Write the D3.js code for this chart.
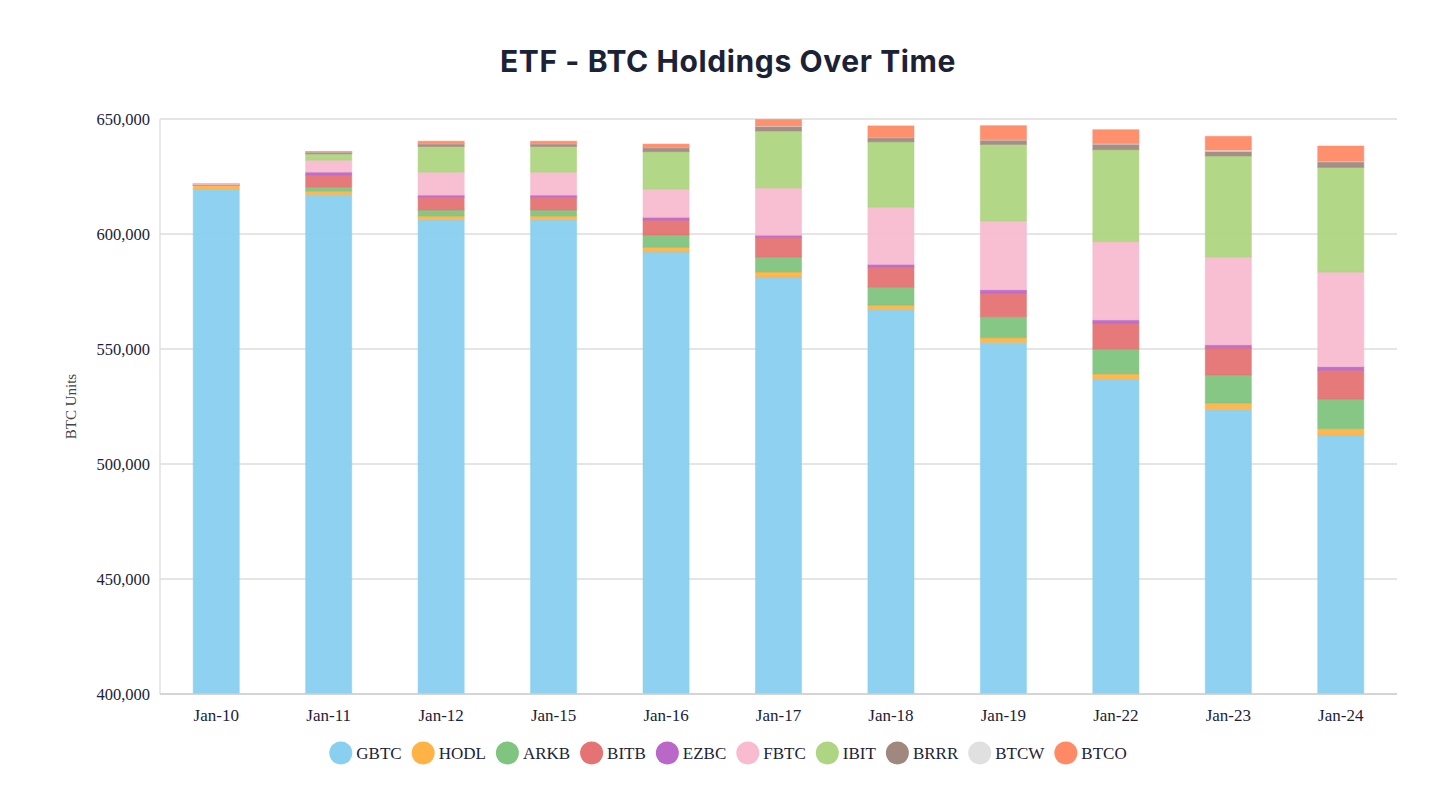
<!DOCTYPE html>
<html>
<head>
<meta charset="utf-8">
<script src="https://cdn.jsdelivr.net/npm/d3@7"></script>
<style>
  body { margin: 0; background: #fff; }
  svg { display: block; }
</style>
</head>
<body>
<div id="chart"></div>
<script>
// ETF BTC holdings, stacked by day
const dates = ["Jan-10", "Jan-11", "Jan-12", "Jan-15", "Jan-16", "Jan-17", "Jan-18", "Jan-19", "Jan-22", "Jan-23", "Jan-24"];
const etfs = ["GBTC", "HODL", "ARKB", "BITB", "EZBC", "FBTC", "IBIT", "BRRR", "BTCW", "BTCO"];

const GBTC = [619500, 617200, 606200, 606200, 592200, 581300, 567100, 552900, 537000, 523600, 512600];
const HODL = [1600, 1450, 1600, 1600, 2000, 2200, 1900, 2000, 2150, 2900, 2750];
const ARKB = [150, 1750, 2600, 2600, 5350, 6500, 7800, 9150, 10850, 12150, 12900];
const BITB = [100, 5200, 5500, 5500, 6500, 8400, 8800, 10300, 11300, 11850, 12500];
const EZBC = [50, 1300, 1000, 1000, 1200, 1050, 1200, 1400, 1300, 1300, 1550];
const FBTC = [500, 5200, 10000, 10000, 12200, 20550, 24900, 29850, 34050, 38150, 41150];
const IBIT = [100, 2750, 11150, 11150, 16350, 24800, 28400, 33350, 40000, 44000, 45500];
const BRRR = [0, 750, 1100, 1100, 1700, 2000, 1750, 1850, 2400, 2000, 2400];
const BTCW = [0, 100, 100, 100, 100, 200, 150, 200, 300, 550, 300];
const BTCO = [0, 200, 1100, 1100, 1500, 2800, 5000, 6100, 6000, 5950, 6600];

const yTicks = [400000, 450000, 500000, 550000, 600000, 650000];

const colors = {
  GBTC: "#89CFF0", HODL: "#FFB347", ARKB: "#7FC47F", BITB: "#E57373", EZBC: "#BA68C8",
  FBTC: "#F8BBD0", IBIT: "#AED581", BRRR: "#A1887F", BTCW: "#E0E0E0", BTCO: "#FF8A65"
};

const series = { GBTC, HODL, ARKB, BITB, EZBC, FBTC, IBIT, BRRR, BTCW, BTCO };
const rows = dates.map((d, i) => {
  const r = { date: d };
  etfs.forEach(k => r[k] = series[k][i]);
  return r;
});

const width = 1456, height = 800;
const margin = { top: 119, right: 59, bottom: 106, left: 160 };
const innerW = width - margin.left - margin.right;
const innerH = height - margin.top - margin.bottom;
const textColor = "#1b2236";
const serif = "'Liberation Serif', 'Times New Roman', serif";

const svg = d3.select("#chart").append("svg")
  .attr("width", width)
  .attr("height", height);

svg.append("text")
  .attr("x", width / 2)
  .attr("y", 72)
  .attr("text-anchor", "middle")
  .style("font-family", "Inter, 'Noto Sans', sans-serif")
  .style("font-weight", 700)
  .style("font-size", "30px")
  .style("letter-spacing", "0.6px")
  .style("fill", textColor)
  .text("ETF - BTC Holdings Over Time");

const g = svg.append("g").attr("transform", `translate(${margin.left},${margin.top})`);

const x = d3.scaleBand()
  .domain(dates)
  .range([0, innerW])
  .paddingInner(0.59)
  .paddingOuter(0.295);

const y = d3.scaleLinear()
  .domain([400000, 650000])
  .range([innerH, 0]);

// grid
g.selectAll("line.grid")
  .data(yTicks)
  .enter()
  .append("line")
  .attr("class", "grid")
  .attr("x1", 0)
  .attr("x2", innerW)
  .attr("y1", d => y(d))
  .attr("y2", d => y(d))
  .attr("stroke", "#dcdcdc")
  .attr("stroke-width", 1.3);

g.append("line")
  .attr("x1", 0).attr("x2", 0)
  .attr("y1", 0).attr("y2", innerH)
  .attr("stroke", "#dcdcdc")
  .attr("stroke-width", 1.3);

g.selectAll("text.ytick")
  .data(yTicks)
  .enter()
  .append("text")
  .attr("class", "ytick")
  .attr("x", -10)
  .attr("y", d => y(d))
  .attr("dy", "0.35em")
  .attr("text-anchor", "end")
  .style("font-family", serif)
  .style("font-size", "16.5px")
  .style("fill", textColor)
  .text(d => d3.format(",")(d));

g.selectAll("text.xtick")
  .data(dates)
  .enter()
  .append("text")
  .attr("class", "xtick")
  .attr("x", d => x(d) + x.bandwidth() / 2)
  .attr("y", innerH + 21)
  .attr("dy", "0.35em")
  .attr("text-anchor", "middle")
  .style("font-family", serif)
  .style("font-size", "17px")
  .style("fill", textColor)
  .text(d => d);

svg.append("text")
  .attr("transform", `translate(76,${margin.top + innerH / 2}) rotate(-90)`)
  .attr("text-anchor", "middle")
  .style("font-family", serif)
  .style("font-size", "15px")
  .style("fill", "#444")
  .text("BTC Units");

// stacked bars, clipped to the plot area
svg.append("defs").append("clipPath")
  .attr("id", "plot-clip")
  .append("rect")
  .attr("width", innerW)
  .attr("height", innerH);

const stack = d3.stack().keys(etfs)(rows);

const layers = g.append("g")
  .attr("clip-path", "url(#plot-clip)")
  .selectAll("g")
  .data(stack)
  .enter()
  .append("g")
  .attr("fill", d => colors[d.key])
  .attr("stroke", d => colors[d.key]);

layers.selectAll("rect")
  .data(d => d.filter(s => s[1] - s[0] > 0))
  .enter()
  .append("rect")
  .attr("x", d => x(d.data.date))
  .attr("y", d => y(d[1]))
  .attr("width", x.bandwidth())
  .attr("height", d => Math.max(0, y(d[0]) - y(d[1])))
  .attr("fill-opacity", 0.95)
  .attr("stroke-opacity", 0.5)
  .attr("stroke-width", 1);

g.append("line")
  .attr("x1", 0).attr("x2", innerW)
  .attr("y1", innerH).attr("y2", innerH)
  .attr("stroke", "#cfcfcf")
  .attr("stroke-width", 1.3);

// legend, centred under the chart
const legend = svg.append("g").attr("transform", "translate(0,753)");
const items = legend.selectAll("g")
  .data(etfs)
  .enter()
  .append("g");

items.append("circle")
  .attr("r", 11.5)
  .attr("cx", 11.5)
  .attr("cy", 0)
  .attr("fill", d => colors[d]);

items.append("text")
  .attr("x", 27)
  .attr("dy", "0.35em")
  .style("font-family", serif)
  .style("font-size", "17px")
  .style("fill", textColor)
  .text(d => d);

let offset = 0;
const gap = 10;
const widths = [];
items.each(function() {
  widths.push(27 + this.querySelector("text").getComputedTextLength());
});
const total = d3.sum(widths) + gap * (widths.length - 1);
offset = width / 2 - total / 2;
items.attr("transform", (d, i) => {
  const t = `translate(${offset},0)`;
  offset += widths[i] + gap;
  return t;
});
</script>
</body>
</html>
